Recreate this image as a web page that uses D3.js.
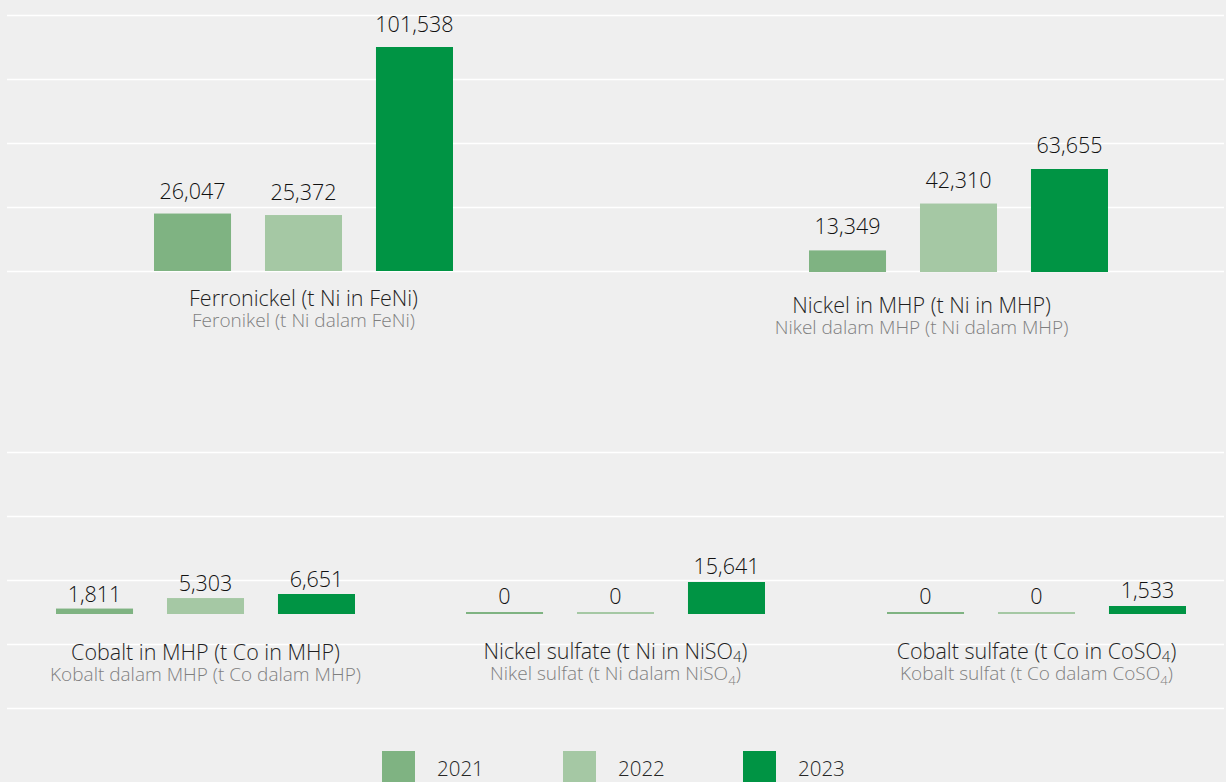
<!DOCTYPE html>
<html>
<head>
<meta charset="utf-8">
<script src="https://cdn.jsdelivr.net/npm/d3@7"></script>
<style>
  body { margin: 0; background: #efefef; }
  svg { display: block; font-family: 'Open Sans', sans-serif; }
  .value-label { font-size: 21.5px; font-weight: 300; fill: #111; text-anchor: middle; }
  .cat-label { font-size: 21.5px; font-weight: 300; fill: #1f1f1f; text-anchor: middle; }
  .cat-sub { font-size: 19px; font-weight: 300; fill: #7f7f7f; text-anchor: middle; }
  .legend-label { font-size: 20.5px; font-weight: 300; fill: #262626; }
</style>
</head>
<body>
<svg width="1226" height="782"></svg>
<script>
const years = ['2021', '2022', '2023'];
const colors = ['#7fb382', '#a5c8a4', '#009444'];

// label parts: [text, subscript, rest]
const categories = [
  ['Ferronickel (t Ni in FeNi)', ''],
  ['Nickel in MHP (t Ni in MHP)', ''],
  ['Cobalt in MHP (t Co in MHP)', ''],
  ['Nickel sulfate (t Ni in NiSO', '4', ')'],
  ['Cobalt sulfate (t Co in CoSO', '4', ')']
];
const subtitles = [
  ['Feronikel (t Ni dalam FeNi)', ''],
  ['Nikel dalam MHP (t Ni dalam MHP)', ''],
  ['Kobalt dalam MHP (t Co dalam MHP)', ''],
  ['Nikel sulfat (t Ni dalam NiSO', '4', ')'],
  ['Kobalt sulfat (t Co dalam CoSO', '4', ')']
];
const values2021 = [26047, 13349, 1811, 0, 0];
const values2022 = [25372, 42310, 5303, 0, 0];
const values2023 = [101538, 63655, 6651, 15641, 1533];

// layout of each panel: group left, baseline, tallest bar height, label shift
const layout = [
  { x: 154, base: 271, h: 224, gap: 15, labelY: 306, dx: 0 },
  { x: 809, base: 272, h: 103, gap: 16, labelY: 313, dx: -37 },
  { x: 56, base: 614, h: 20, gap: 7, labelY: 660, dx: 0 },
  { x: 466, base: 614, h: 32, gap: 8, labelY: 659, dx: 0 },
  { x: 887, base: 614, h: 8, gap: 8, labelY: 659, dx: 0 }
];

const svg = d3.select('svg');
const width = +svg.attr('width');

svg.append('rect')
  .attr('width', width)
  .attr('height', 782)
  .attr('fill', '#efefef');

// background grid lines
const gridTop = d3.scaleLinear().domain([0, 4]).range([15, 271]);
const gridBottom = d3.scaleLinear().domain([0, 4]).range([452, 708]);
const gridG = svg.append('g');
d3.range(5).forEach(i => {
  [gridTop(i), gridBottom(i)].forEach(y => {
    gridG.append('line')
      .attr('x1', 7).attr('x2', 1224)
      .attr('y1', Math.round(y) + 0.5).attr('y2', Math.round(y) + 0.5)
      .attr('stroke', '#ffffff')
      .attr('stroke-width', 1.6);
  });
});

const xScale = d3.scaleBand()
  .domain(years)
  .range([0, 299])
  .paddingInner(0.306)
  .paddingOuter(0);

const colorScale = d3.scaleOrdinal().domain(years).range(colors);
const fmt = d3.format(',');

function addLabel(sel, parts, x, y, cls) {
  const t = sel.append('text').attr('class', cls).attr('x', x).attr('y', y);
  t.append('tspan').text(parts[0]);
  if (parts[1]) {
    const shift = cls === 'cat-sub' ? 5 : 3;
    t.append('tspan').attr('font-size', '0.7em').attr('dy', shift).text(parts[1]);
    t.append('tspan').attr('dy', -shift).text(parts[2]);
  }
  return t;
}

categories.forEach((cat, i) => {
  const L = layout[i];
  const rows = years.map((yr, j) => ({
    year: yr,
    value: [values2021, values2022, values2023][j][i]
  }));
  const yScale = d3.scaleLinear()
    .domain([0, d3.max(rows, d => d.value)])
    .range([L.base, L.base - L.h]);

  const g = svg.append('g').attr('transform', `translate(${L.x},0)`);

  g.selectAll('rect').data(rows)
    .enter().append('rect')
    .attr('x', d => xScale(d.year))
    .attr('width', xScale.bandwidth())
    .attr('y', d => Math.min(yScale(d.value), L.base - 2))
    .attr('height', d => Math.max(L.base - yScale(d.value), 2))
    .attr('fill', d => colorScale(d.year));

  g.selectAll('.value-label').data(rows)
    .enter().append('text')
    .attr('class', 'value-label')
    .attr('x', d => xScale(d.year) + xScale.bandwidth() / 2)
    .attr('y', d => Math.min(yScale(d.value), L.base - 2) - L.gap)
    .text(d => fmt(d.value));

  const cx = 299 / 2 + L.dx;
  addLabel(g, cat, cx, L.labelY, 'cat-label');
  addLabel(g, subtitles[i], cx, L.labelY + 21, 'cat-sub');
});

// legend
const legendX = d3.scaleOrdinal().domain(years).range([382, 563, 743]);
const legendG = svg.append('g');
years.forEach(yr => {
  legendG.append('rect')
    .attr('x', legendX(yr))
    .attr('y', 751)
    .attr('width', 33)
    .attr('height', 33)
    .attr('fill', colorScale(yr));
  legendG.append('text')
    .attr('class', 'legend-label')
    .attr('x', legendX(yr) + 55)
    .attr('y', 776)
    .text(yr);
});
</script>
</body>
</html>
